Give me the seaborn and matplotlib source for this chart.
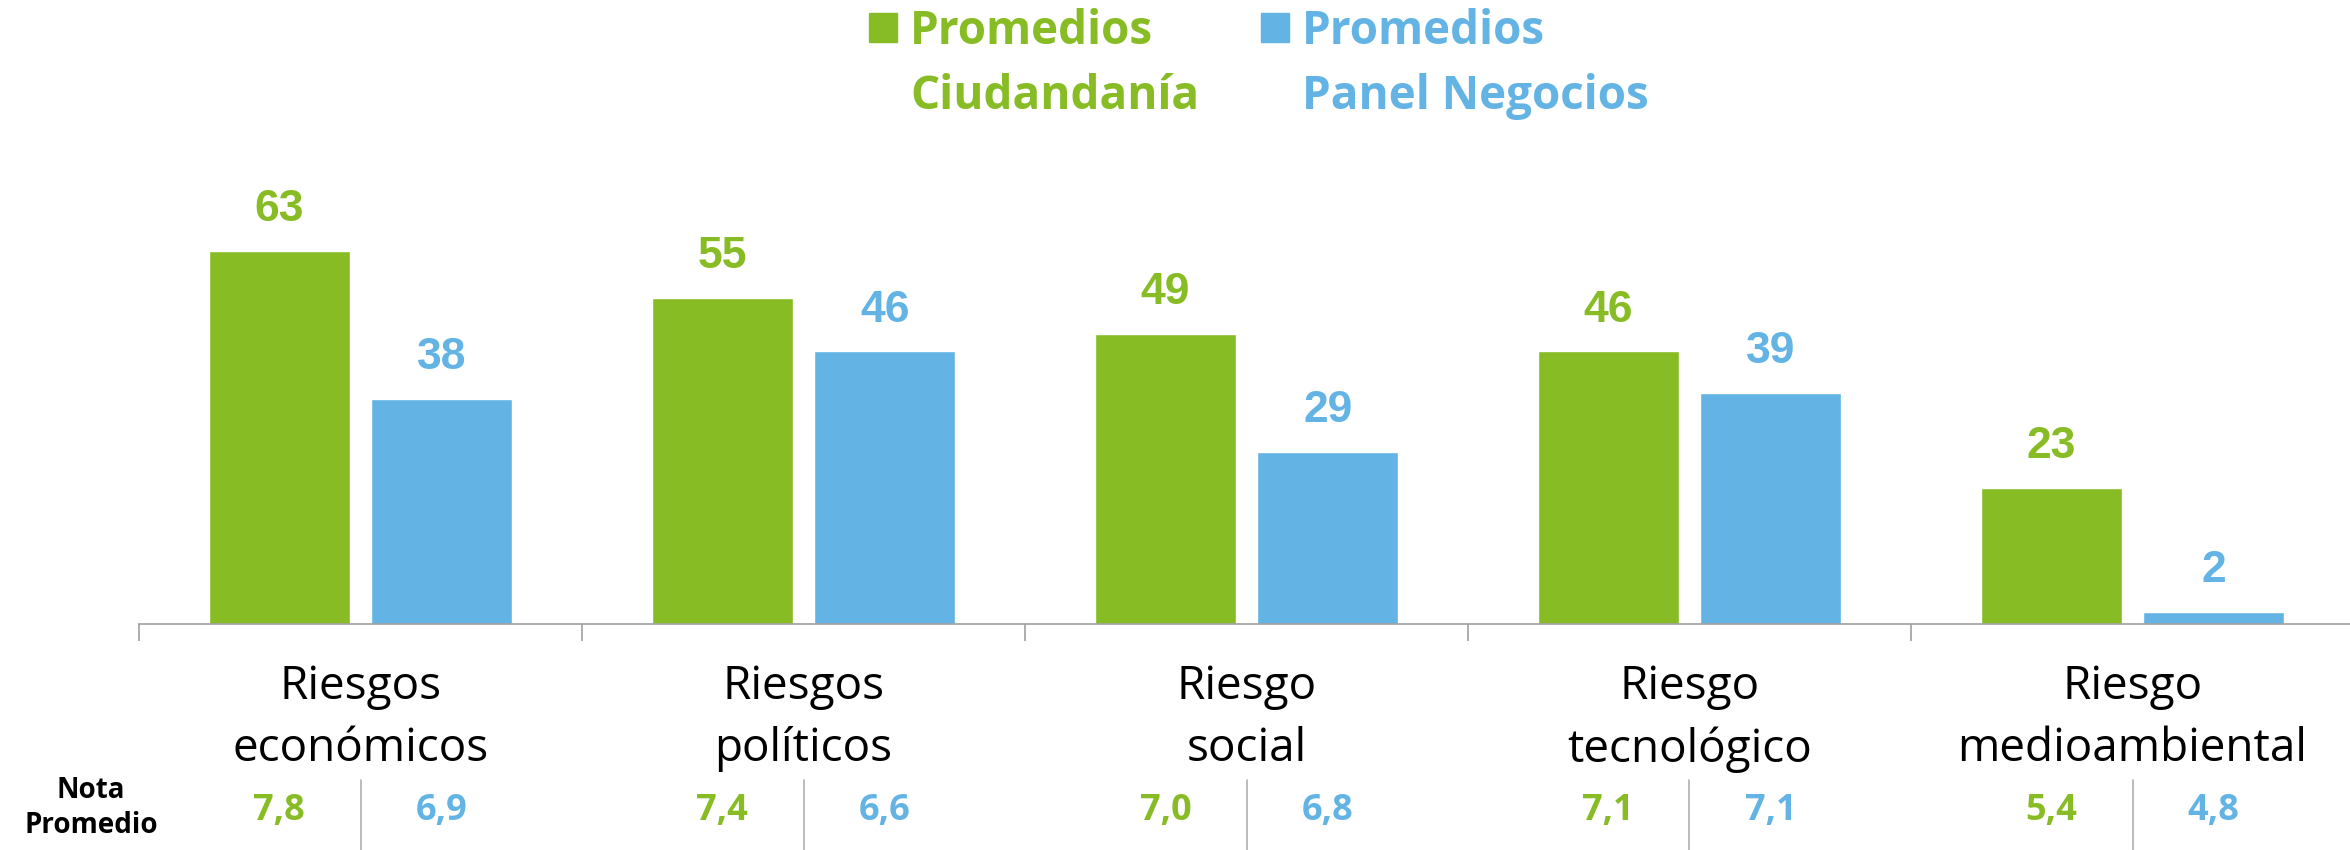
import numpy as np
import pandas as pd
import seaborn as sns
import matplotlib.pyplot as plt
from matplotlib.patches import Patch
import matplotlib.transforms as mtransforms

categorias = ['Riesgos\neconómicos', 'Riesgos\npolíticos', 'Riesgo\nsocial',
              'Riesgo\ntecnológico', 'Riesgo\nmedioambiental']
ciudadania = [63, 55, 49, 46, 23]
panel = [38, 46, 29, 39, 2]
nota_ciudadania = [7.8, 7.4, 7.0, 7.1, 5.4]
nota_panel = [6.9, 6.6, 6.8, 7.1, 4.8]
series = ['Promedios Ciudandanía', 'Promedios Panel Negocios']
leyenda_l1 = ['Promedios', 'Promedios']
leyenda_l2 = ['Ciudandanía', 'Panel Negocios']

verde = '#87BC24'
azul = '#63B4E4'

sns.set_style('white')
plt.rcParams['font.family'] = ['Open Sans', 'DejaVu Sans']

df = pd.DataFrame({
    'categoria': categorias * 2,
    'valor': ciudadania + panel,
    'serie': [series[0]] * 5 + [series[1]] * 5,
})

fig = plt.figure(figsize=(23.5, 8.5), dpi=100)
ax = fig.add_axes([139 / 2350, 1 - 624 / 850, 2215 / 2350, (624 - 150) / 850])

sns.barplot(data=df, x='categoria', y='valor', hue='serie', hue_order=series,
            palette=[verde, azul], width=0.733, gap=0.13, saturation=1,
            ax=ax, legend=False)

ax.set_xlim(-0.5, 4.5)
ax.set_ylim(0, 80)
ax.set_xlabel('')
ax.set_ylabel('')
ax.set_yticks([])
sns.despine(ax=ax, left=True, top=True, right=True)
ax.spines['bottom'].set_color('#a0a0a0')
ax.spines['bottom'].set_linewidth(1.2)

ax.set_xticks(range(5))
ax.set_xticklabels(categorias, fontsize=33, fontweight='normal',
                   linespacing=1.45, color='black')
ax.set_xticks(np.arange(-0.5, 5, 1), minor=True)
ax.tick_params(axis='x', which='major', length=0, pad=29)
ax.tick_params(axis='x', which='minor', bottom=True, length=12, width=1.2,
               color='#a0a0a0')

for cont, col in zip(ax.containers, [verde, azul]):
    ax.bar_label(cont, fmt='%d', padding=15, color=col, fontsize=32,
                 fontweight='bold', fontfamily=['Liberation Sans', 'DejaVu Sans'])

# tabla de notas promedio
trans = mtransforms.blended_transform_factory(ax.transData, fig.transFigure)
for cont, notas, col in zip(ax.containers, [nota_ciudadania, nota_panel], [verde, azul]):
    for bar, n in zip(cont, notas):
        cx = bar.get_x() + bar.get_width() / 2
        ax.text(cx, 1 - 811 / 850, f'{n:.1f}'.replace('.', ','), transform=trans,
                ha='center', va='center', fontsize=26, fontweight='bold', color=col,
                clip_on=False)
for i in range(len(categorias)):
    ax.plot([i, i], [1 - 780 / 850, 0], transform=trans, color='#b0b0b0',
            lw=1.2, clip_on=False)
fig.text(91 / 2350, 1 - 808 / 850, 'Nota\nPromedio', ha='center', va='center',
         fontsize=20, fontweight='bold', color='black', linespacing=1.3)

# leyenda: primera linea en la leyenda, segunda linea debajo de cada texto
handles = [Patch(color=verde), Patch(color=azul)]
leg = fig.legend(handles, leyenda_l1, loc='upper left',
                 bbox_to_anchor=(869 / 2350, 1 - 8 / 850), borderpad=0,
                 borderaxespad=0, ncol=2, frameon=False,
                 prop={'size': 33, 'weight': 'bold'},
                 handlelength=0.6, handleheight=0.6, handletextpad=0.3,
                 columnspacing=2.35)
for t, col in zip(leg.get_texts(), [verde, azul]):
    t.set_color(col)

fig.canvas.draw()
inv = fig.transFigure.inverted()
for t, txt, col in zip(leg.get_texts(), leyenda_l2, [verde, azul]):
    bb = t.get_window_extent()
    x0, y0 = inv.transform((bb.x0, bb.y0 - 65))
    fig.text(x0, y0, txt, ha='left', va='bottom', fontsize=33,
             fontweight='bold', color=col)

fig.savefig('out.png', dpi=100)
